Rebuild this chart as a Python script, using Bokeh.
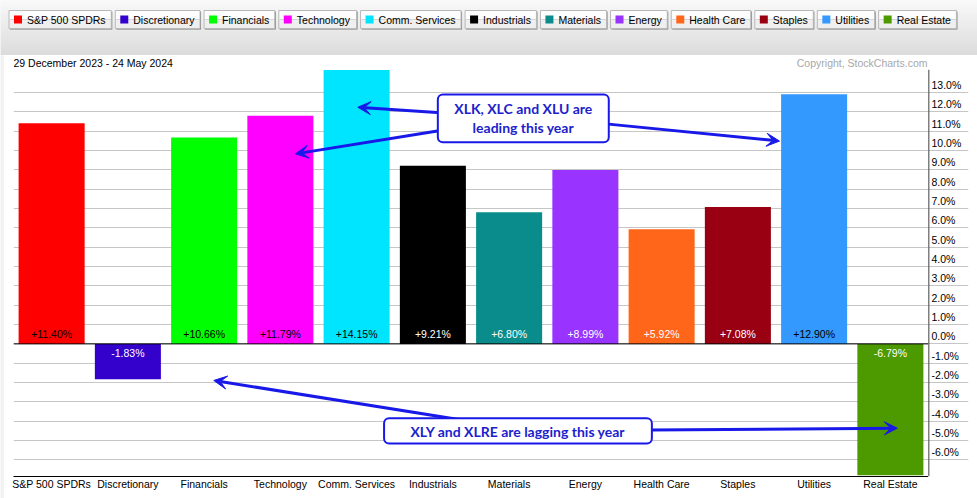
from bokeh.plotting import figure
from bokeh.layouts import column, row
from bokeh.models import (Range1d, FixedTicker, Span, Label, Arrow, VeeHead,
                          BoxAnnotation, ColumnDataSource)
from bokeh.core.properties import value
from bokeh.embed import file_html
from bokeh.resources import INLINE

# ---------------- data ----------------
categories = ["S&P 500 SPDRs", "Discretionary", "Financials", "Technology",
              "Comm. Services", "Industrials", "Materials", "Energy",
              "Health Care", "Staples", "Utilities", "Real Estate"]
pct_change = [11.40, -1.83, 10.66, 11.79, 14.15, 9.21, 6.80, 8.99,
              5.92, 7.08, 12.90, -6.79]
y_ticks = list(range(-6, 14))
y_tick_labels = [f"{t:.1f}%" for t in y_ticks]
date_range = "29 December 2023 - 24 May 2024"
copyright_text = "Copyright, StockCharts.com"
note_leading = ["XLK, XLC and XLU are", "leading this year"]
note_lagging = "XLY and XLRE are lagging this year"

# ---------------- styles ----------------
bar_colors = ["#ff0000", "#3300cc", "#00ff00", "#ff00ff", "#00e5ff", "#000000",
              "#0a8c8c", "#9933ff", "#ff6619", "#990011", "#3399ff", "#4d9900"]
label_colors = ["black", "white", "black", "black", "black", "white",
                "white", "white", "white", "white", "black", "white"]
FONT = "Liberation Sans"
FS = "10.5px"
BLUE = "#1818e8"
TXT_BLUE = "#1c22cc"
GRID = "#c6c6c6"
EDGE_GRAY = "#f2f2f2"

W, H = 977, 498
LEG_H = 55          # legend strip
DATE_H = 14         # strip with date / copyright
EDGE_W = 4          # thin grey border on the left
AXIS_W = 49         # right-hand label column
MAIN_H = H - LEG_H - DATE_H
PLOT_L = 9          # space left of the plotting frame
PLOT_B = 22         # space for category labels
PX_PER_PCT = 19.35
Y_TOP = 14.18
Y_BOT = Y_TOP - (MAIN_H - PLOT_B) / PX_PER_PCT

# ---------------- legend strip ----------------
AW = {' ': 278, '&': 667, '.': 278, 'A': 667, 'B': 667, 'C': 722, 'D': 722,
      'E': 667, 'F': 611, 'G': 778, 'H': 722, 'I': 278, 'J': 500, 'K': 667,
      'L': 556, 'M': 833, 'N': 722, 'O': 778, 'P': 667, 'Q': 778, 'R': 722,
      'S': 667, 'T': 611, 'U': 722, 'V': 667, 'W': 944, 'X': 667, 'Y': 667,
      'Z': 611, 'a': 556, 'b': 556, 'c': 500, 'd': 556, 'e': 556, 'f': 278,
      'g': 556, 'h': 556, 'i': 222, 'j': 222, 'k': 500, 'l': 222, 'm': 833,
      'n': 556, 'o': 556, 'p': 556, 'q': 556, 'r': 333, 's': 500, 't': 278,
      'u': 556, 'v': 500, 'w': 722, 'x': 500, 'y': 500, 'z': 500}
for d in "0123456789":
    AW[d] = 556


def text_w(s, size=10.5):
    return sum(AW.get(ch, 556) for ch in s) * size / 1000.0


lg = figure(width=W, height=LEG_H, x_range=Range1d(0, W), y_range=Range1d(LEG_H, 0),
            toolbar_location=None, output_backend="svg",
            x_axis_location=None, y_axis_location=None, min_border=0)
lg.grid.visible = False
lg.outline_line_color = None
lg.background_fill_color = EDGE_GRAY
lg.border_fill_color = EDGE_GRAY

N = 20
g_top, g_bot, g_col = [], [], []
for j in range(N):
    t = j / (N - 1)
    c = int(round(0xf7 + (0xdc - 0xf7) * t))
    g_top.append(2 + j * (LEG_H - 2) / N)
    g_bot.append(2 + (j + 1) * (LEG_H - 2) / N + 0.5)
    g_col.append("#%02x%02x%02x" % (c, c, c))
lg.quad(left=0, right=W, top=0, bottom=2, fill_color="#fafafa", line_color=None)
lg.quad(left=0, right=W, top=g_top, bottom=g_bot, fill_color=g_col, line_color=None)

PAD = 23.5
GAP = 4
BOX_T, BOX_B = 10, 28
lefts, rights = [], []
x = 8.5
for name in categories:
    w = text_w(name) + PAD
    lefts.append(x)
    rights.append(x + w)
    x += w + GAP
mid = (BOX_T + BOX_B) / 2
lg.quad(left=[l + 1 for l in lefts], right=[r + 1 for r in rights],
        top=BOX_T + 1, bottom=BOX_B + 1, fill_color="#7a7a7a", line_color=None)
lg.quad(left=lefts, right=rights, top=BOX_T, bottom=mid, fill_color="#fdfdfd", line_color=None)
lg.quad(left=lefts, right=rights, top=mid, bottom=BOX_B, fill_color="#efefef", line_color=None)
lg.quad(left=lefts, right=rights, top=BOX_T, bottom=BOX_B, fill_color=None,
        line_color="#b8b8b8", line_width=1)
lg.quad(left=[l + 5 for l in lefts], right=[l + 13 for l in lefts],
        top=mid - 4, bottom=mid + 4, fill_color=bar_colors, line_color=None)
lg.text(x=[l + 18 for l in lefts], y=mid + 0.5, text=categories, text_align="left",
        text_baseline="middle", text_font=value(FONT), text_font_size=FS,
        text_color="black")

# ---------------- shared ranges ----------------
xr = Range1d(-0.5, 11.5)
yr = Range1d(Y_BOT, Y_TOP)

# ---------------- left grey edge ----------------
edge = figure(width=EDGE_W, height=H - LEG_H, toolbar_location=None,
              output_backend="svg", x_axis_location=None, y_axis_location=None,
              min_border=0, x_range=Range1d(0, 1), y_range=Range1d(0, 1))
edge.grid.visible = False
edge.outline_line_color = None
edge.background_fill_color = EDGE_GRAY
edge.border_fill_color = EDGE_GRAY

# ---------------- date / copyright strip ----------------
ds = figure(width=W - EDGE_W, height=DATE_H, x_range=xr, y_range=Range1d(0, DATE_H),
            toolbar_location=None, output_backend="svg", x_axis_location=None,
            y_axis_location=None, min_border=0, min_border_left=PLOT_L,
            min_border_right=AXIS_W)
ds.grid.visible = False
ds.outline_line_color = None
ds.text(x=[xr.start], y=DATE_H / 2, text=[date_range], text_align="left",
        text_baseline="middle", text_font=value(FONT), text_font_size=FS,
        text_color="black")
ds.text(x=[xr.end], y=DATE_H / 2, text=[copyright_text], text_align="right",
        x_offset=-1, text_baseline="middle", text_font=value(FONT),
        text_font_size=FS, text_color="#a8a8a8")

# ---------------- main chart ----------------
p = figure(width=W - EDGE_W - AXIS_W, height=MAIN_H, x_range=xr, y_range=yr,
           y_axis_location=None, toolbar_location=None, output_backend="svg",
           min_border=0, min_border_left=PLOT_L, min_border_bottom=PLOT_B)
p.outline_line_color = None
p.xgrid.visible = False
p.ygrid.ticker = FixedTicker(ticks=y_ticks)
p.ygrid.grid_line_color = GRID

xa = p.xaxis[0]
xa.ticker = FixedTicker(ticks=list(range(len(categories))))
xa.major_label_overrides = {i: c for i, c in enumerate(categories)}
xa.major_tick_line_color = None
xa.minor_tick_line_color = None
xa.major_tick_out = 0
xa.major_tick_in = 0
xa.minor_tick_out = 0
xa.axis_line_color = "black"
xa.major_label_standoff = 1
xa.major_label_text_font = FONT
xa.major_label_text_font_size = FS
xa.major_label_text_color = "black"

src = ColumnDataSource(dict(
    x=list(range(len(categories))),
    top=pct_change,
    color=bar_colors,
    label=[f"{v:+.2f}%" for v in pct_change],
    tc=label_colors,
    yoff=[-9.5 if v > 0 else 9 for v in pct_change],
))
p.vbar(x="x", top="top", bottom=0, width=0.866, fill_color="color",
       line_color=None, source=src)
p.text(x="x", y=0, text="label", text_color="tc", y_offset="yoff",
       text_align="center", text_baseline="middle", text_font=value(FONT),
       text_font_size=FS, source=src)

p.add_layout(Span(location=0, dimension="width", line_color="black", line_width=1))

# annotation arrows (x in category slots, y in percent)
arrows = [
    (5.10, 11.94, 4.015, 12.23),
    (5.10, 11.03, 3.198, 9.82),
    (7.27, 11.37, 9.546, 10.48),
    (5.40, -3.95, 2.127, -1.89),
    (7.85, -4.45, 11.091, -4.36),
]
for xs, ys, xe, ye in arrows:
    p.add_layout(Arrow(end=VeeHead(size=13, fill_color=BLUE, line_color=BLUE),
                       x_start=xs, y_start=ys, x_end=xe, y_end=ye,
                       line_color=BLUE, line_width=3))

p.add_layout(BoxAnnotation(left=5.065, right=7.307, top=12.89, bottom=10.42,
                           fill_color="white", fill_alpha=1, line_color=BLUE,
                           line_alpha=1, line_width=2, border_radius=5))
p.add_layout(BoxAnnotation(left=4.36, right=7.872, top=-3.84, bottom=-5.15,
                           fill_color="white", fill_alpha=1, line_color=BLUE,
                           line_alpha=1, line_width=2, border_radius=5))
for line_text, ly in zip(note_leading, [12.15, 11.17]):
    p.add_layout(Label(x=6.186, y=ly, text=line_text, text_align="center",
                       text_baseline="middle", text_font="Lato",
                       text_font_style="bold", text_font_size="14px",
                       text_color=TXT_BLUE))
p.add_layout(Label(x=6.116, y=-4.51, text=note_lagging, text_align="center",
                   text_baseline="middle", text_font="Lato",
                   text_font_style="bold", text_font_size="14px",
                   text_color=TXT_BLUE))

# ---------------- right-hand value axis ----------------
ax = figure(width=AXIS_W, height=MAIN_H, x_range=Range1d(0, 40), y_range=yr,
            toolbar_location=None, output_backend="svg", x_axis_location=None,
            y_axis_location=None, min_border=0, min_border_bottom=PLOT_B,
            min_border_right=AXIS_W - 40)
ax.outline_line_color = None
ax.xgrid.visible = False
ax.ygrid.ticker = FixedTicker(ticks=y_ticks)
ax.ygrid.grid_line_color = GRID
ax.add_layout(Span(location=0, dimension="height", line_color="black", line_width=1.5))
ax.text(x=0, y=y_ticks, text=y_tick_labels, x_offset=3, y_offset=-7.5,
        text_align="left", text_baseline="middle", text_font=value(FONT),
        text_font_size=FS, text_color="black")

layout = column(lg, row(edge, column(ds, row(p, ax, spacing=0), spacing=0), spacing=0),
                spacing=0)
open("out.html", "w").write(file_html(layout, INLINE))
